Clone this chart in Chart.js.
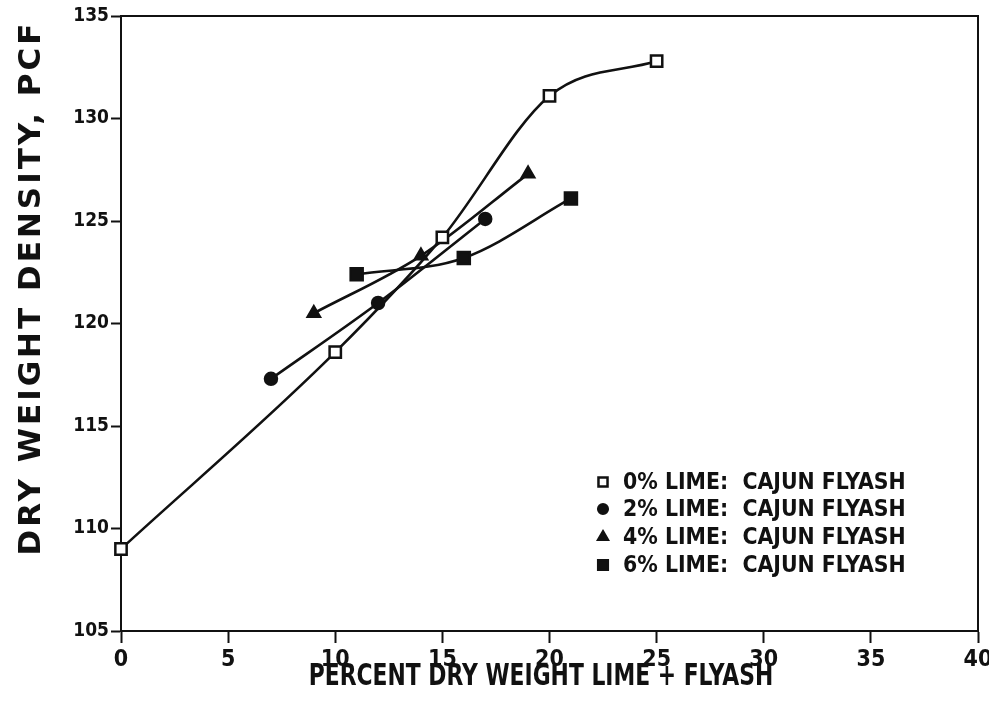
<!DOCTYPE html>
<html>
<head>
<meta charset="utf-8">
<script src="https://cdn.jsdelivr.net/npm/chart.js@4.4.1/dist/chart.umd.min.js"></script>
<style>
  html, body { margin: 0; padding: 0; background: #fff; }
  #wrap { width: 989px; height: 702px; }
</style>
</head>
<body>
<div id="wrap"><canvas id="density" width="989" height="702"></canvas></div>
<script>
// axis ranges / ticks
const xTicks = [0, 5, 10, 15, 20, 25, 30, 35, 40];
const yTicks = [105, 110, 115, 120, 125, 130, 135];

// percent lime+flyash vs dry density (pcf), one pair of arrays per lime content
const lime0X = [0, 10, 15, 20, 25];
const lime0Y = [109.0, 118.6, 124.2, 131.1, 132.8];
const lime2X = [7, 12, 17];
const lime2Y = [117.3, 121.0, 125.1];
const lime4X = [9, 14, 19];
const lime4Y = [120.5, 123.3, 127.3];
const lime6X = [11, 16, 21];
const lime6Y = [122.4, 123.2, 126.1];

const seriesLabels = [
    '0% LIME:  CAJUN FLYASH',
    '2% LIME:  CAJUN FLYASH',
    '4% LIME:  CAJUN FLYASH',
    '6% LIME:  CAJUN FLYASH'
];

const xTitle = 'PERCENT DRY WEIGHT LIME + FLYASH';
const yTitle = 'DRY WEIGHT DENSITY, PCF';

const FONT = '"DejaVu Sans Condensed", "DejaVu Sans", sans-serif';
const INK = '#111';

const markers = [
    { pointStyle: 'rect', fill: '#fff', radius: 8 },
    { pointStyle: 'circle', fill: INK, radius: 6 },
    { pointStyle: 'triangle', fill: INK, radius: 7 },
    { pointStyle: 'rect', fill: INK, radius: 8.5 }
];

function toPoints(xs, ys) {
    return xs.map((x, i) => ({ x: x, y: ys[i] }));
}

function makeDataset(label, xs, ys, marker) {
    return {
        label: label,
        data: toPoints(xs, ys),
        borderColor: INK,
        borderWidth: 2.6,
        cubicInterpolationMode: 'monotone',
        pointStyle: marker.pointStyle,
        pointRadius: marker.radius,
        pointBackgroundColor: marker.fill,
        pointBorderColor: INK,
        pointBorderWidth: 2.5,
        clip: false
    };
}

// closes the plot box on the top and right sides
const frame = {
    id: 'frame',
    beforeDatasetsDraw(chart) {
        const { ctx, chartArea: a } = chart;
        ctx.save();
        ctx.strokeStyle = INK;
        ctx.lineWidth = 2;
        ctx.beginPath();
        ctx.moveTo(a.left, a.top);
        ctx.lineTo(a.right, a.top);
        ctx.lineTo(a.right, a.bottom);
        ctx.stroke();
        ctx.restore();
    }
};

// plotter-style condensed text: squeeze horizontally around (x, y)
function narrowText(ctx, text, x, y, squeeze) {
    ctx.save();
    ctx.translate(x, y);
    ctx.scale(squeeze, 1);
    ctx.fillText(text, 0, 0);
    ctx.restore();
}

const axisTitles = {
    id: 'axisTitles',
    afterDraw(chart) {
        const ctx = chart.ctx;
        ctx.save();
        ctx.fillStyle = INK;
        ctx.textAlign = 'center';
        ctx.textBaseline = 'alphabetic';

        ctx.font = 'bold 30px ' + FONT;
        narrowText(ctx, xTitle, 541, 685, 0.81);

        ctx.translate(40, 288);
        ctx.rotate(-Math.PI / 2);
        ctx.font = 'bold 31px "DejaVu Sans", sans-serif';
        ctx.letterSpacing = '3px';
        ctx.fillText(yTitle, 0, 0);
        ctx.restore();
    }
};

// legend drawn inside the plot, lower right
const insideLegend = {
    id: 'insideLegend',
    afterDraw(chart) {
        const ctx = chart.ctx;
        const rowY = [482, 509, 537, 565];
        ctx.save();
        ctx.font = 'bold 23px ' + FONT;
        ctx.textAlign = 'left';
        ctx.textBaseline = 'middle';
        chart.data.datasets.forEach((ds, i) => {
            const m = markers[i];
            ctx.fillStyle = m.fill;
            ctx.strokeStyle = INK;
            ctx.lineWidth = 2.5;
            Chart.helpers.drawPoint(ctx, {
                pointStyle: m.pointStyle,
                radius: m.radius * 0.8,
                rotation: 0,
                borderWidth: 2.5
            }, 603, rowY[i]);
            ctx.fillStyle = INK;
            narrowText(ctx, ds.label, 623, rowY[i] + 1, 0.99);
        });
        ctx.restore();
    }
};

new Chart(document.getElementById('density'), {
    type: 'line',
    data: {
        datasets: [
            makeDataset(seriesLabels[0], lime0X, lime0Y, markers[0]),
            makeDataset(seriesLabels[1], lime2X, lime2Y, markers[1]),
            makeDataset(seriesLabels[2], lime4X, lime4Y, markers[2]),
            makeDataset(seriesLabels[3], lime6X, lime6Y, markers[3])
        ]
    },
    options: {
        responsive: false,
        animation: false,
        devicePixelRatio: 1,
        layout: { padding: { top: 16, right: 11, left: 0, bottom: 0 } },
        plugins: {
            legend: { display: false },
            tooltip: { enabled: false }
        },
        scales: {
            x: {
                type: 'linear',
                min: xTicks[0],
                max: xTicks[xTicks.length - 1],
                afterBuildTicks: scale => { scale.ticks = xTicks.map(v => ({ value: v })); },
                afterFit: scale => {
                    scale.height = 71;
                    scale.paddingLeft = 0;
                    scale.paddingRight = 0;
                },
                border: { display: true, color: INK, width: 2 },
                grid: { drawOnChartArea: false, tickLength: 12, tickColor: INK, tickWidth: 2 },
                ticks: {
                    color: INK,
                    padding: 3,
                    maxRotation: 0,
                    font: { family: FONT, size: 23, weight: 'bold' }
                }
            },
            y: {
                type: 'linear',
                min: yTicks[0],
                max: yTicks[yTicks.length - 1],
                afterBuildTicks: scale => { scale.ticks = yTicks.map(v => ({ value: v })); },
                afterFit: scale => { scale.width = 121; },
                border: { display: true, color: INK, width: 2 },
                grid: { drawOnChartArea: false, tickLength: 10, tickColor: INK, tickWidth: 2 },
                ticks: {
                    color: INK,
                    padding: 2,
                    font: { family: FONT, size: 19, weight: 'bold' }
                }
            }
        }
    },
    plugins: [frame, axisTitles, insideLegend]
});
</script>
</body>
</html>
